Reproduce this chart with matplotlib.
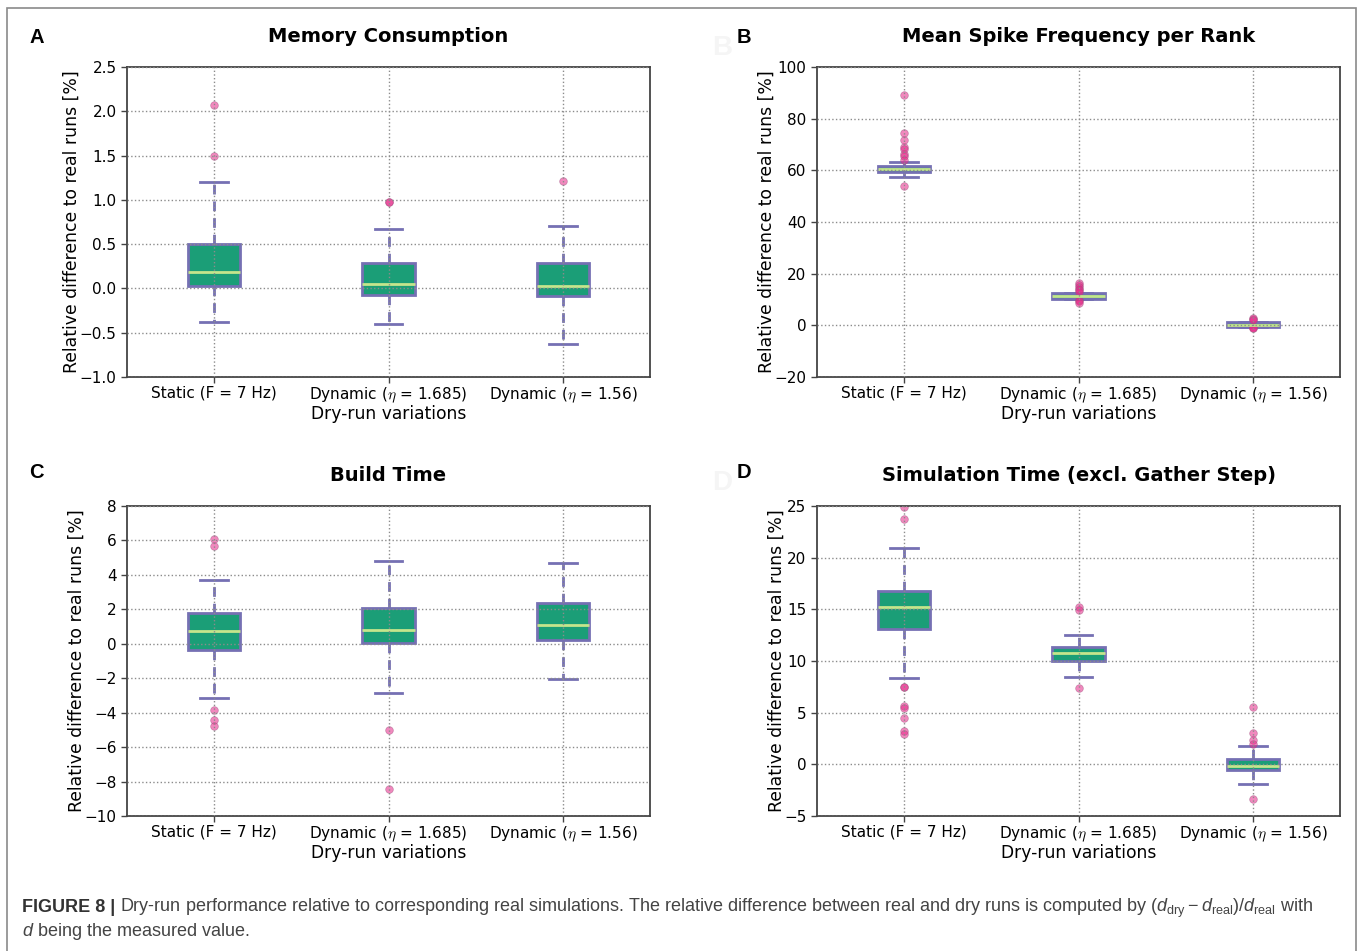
import numpy as np
import matplotlib
matplotlib.use("Agg")
import matplotlib.pyplot as plt
from matplotlib.patches import Rectangle

plt.rcParams['font.family'] = ['DejaVu Sans']
plt.rcParams['mathtext.fontset'] = 'cm'
plt.rcParams['mathtext.rm'] = 'Liberation Sans'
plt.rcParams['mathtext.it'] = 'Liberation Sans:italic'
plt.rcParams['mathtext.bf'] = 'Liberation Sans:bold'

# categories on the x axis
variations = ['Static (F = 7 Hz)', r'Dynamic ($\eta$ = 1.685)', r'Dynamic ($\eta$ = 1.56)']

# box stats per variation: (whisker low, q1, median, q3, whisker high)
mem_stats = [(-0.38, 0.03, 0.18, 0.505, 1.20),
             (-0.405, -0.07, 0.053, 0.287, 0.67),
             (-0.627, -0.09, 0.03, 0.283, 0.71)]
mem_fliers = [[2.07, 1.50], [0.98, 0.975], [1.21]]

spike_stats = [(57.3, 59.5, 60.6, 61.7, 63.2),
               (10.2, 10.3, 11.35, 12.4, 12.5),
               (-0.8, -0.66, 0.1, 1.16, 1.3)]
spike_fliers = [[89.3, 74.3, 71.7, 69.1, 68.3, 66.3, 65.5, 64.0, 53.9],
                [16.3, 15.5, 14.7, 14.0, 13.7, 13.0, 9.8, 9.4, 8.75],
                [2.7, 2.3, 1.9, -0.5, -0.9, -1.2]]

build_stats = [(-3.17, -0.38, 0.76, 1.79, 3.70),
               (-2.88, 0.03, 0.80, 2.08, 4.79),
               (-2.03, 0.22, 1.07, 2.39, 4.69)]
build_fliers = [[6.08, 5.68, -3.83, -4.44, -4.77], [-5.02, -8.45], []]

sim_stats = [(8.32, 13.13, 15.19, 16.77, 20.9),
             (8.48, 9.97, 10.81, 11.39, 12.55),
             (-1.87, -0.58, -0.19, 0.48, 1.81)]
sim_fliers = [[24.9, 23.7, 7.5, 7.45, 5.65, 5.45, 4.52, 3.26, 2.97],
              [15.26, 14.97, 7.42],
              [5.52, 3.03, 2.32, 2.0, -3.39]]

panels = [
    ('A', 'Memory Consumption', mem_stats, mem_fliers, (-1.0, 2.5), np.arange(-1.0, 2.51, 0.5)),
    ('B', 'Mean Spike Frequency per Rank', spike_stats, spike_fliers, (-20, 100), np.arange(-20, 101, 20)),
    ('C', 'Build Time', build_stats, build_fliers, (-10, 8), np.arange(-10, 9, 2)),
    ('D', 'Simulation Time (excl. Gather Step)', sim_stats, sim_fliers, (-5, 25), np.arange(-5, 26, 5)),
]

W, H = 1358, 951
fig = plt.figure(figsize=(W / 100, H / 100), dpi=100)

# axes boxes in pixels (left, top)
ax_pos = {'A': (127, 67), 'B': (817, 67), 'C': (127, 506), 'D': (817, 506)}
letter_pos = {'A': (29, 43), 'B': (737, 43), 'C': (29, 478), 'D': (737, 478)}
aw, ah = 523, 310

green = '#1b9e77'
purple = '#7570b3'
pink = '#e7298a'
light = '#c5e58c'

for letter, title, stats, fliers, ylim, yticks in panels:
    x0, y0 = ax_pos[letter]
    ax = fig.add_axes([x0 / W, 1 - (y0 + ah) / H, aw / W, ah / H])
    bstats = []
    for (lo, q1, med, q3, hi), fl, lab in zip(stats, fliers, variations):
        bstats.append(dict(whislo=lo, q1=q1, med=med, q3=q3, whishi=hi,
                           fliers=fl, label=lab))
    ax.bxp(bstats, positions=[1, 2, 3], widths=0.3, capwidths=0.16,
           patch_artist=True,
           boxprops=dict(facecolor=green, edgecolor=purple, linewidth=2),
           whiskerprops=dict(color=purple, linestyle=(0, (3.5, 2.5)), linewidth=2),
           capprops=dict(color=purple, linewidth=2),
           medianprops=dict(color=light, linewidth=2),
           flierprops=dict(marker='o', markerfacecolor=pink, markeredgecolor='#a05080',
                           markeredgewidth=0.5, markersize=5.5, alpha=0.55))
    ax.set_xlim(0.5, 3.5)
    ax.set_ylim(*ylim)
    ax.set_yticks(yticks)
    ax.grid(True, linestyle=':', color='#8c8c8c', linewidth=1)
    ax.set_axisbelow(False)
    ax.tick_params(direction='out', length=4, width=1, color='#444444',
                   labelsize=11, top=False, right=False)
    ax.tick_params(axis='x', pad=2)
    for sp in ax.spines.values():
        sp.set_color('#444444')
        sp.set_linewidth(1.3)
    ax.set_title(title, fontsize=14, fontweight='bold', pad=18)
    ax.set_xlabel('Dry-run variations', fontsize=12.3, labelpad=0)
    ax.set_ylabel('Relative difference to real runs [%]', fontsize=12.4, labelpad=-1)

    lx, ly = letter_pos[letter]
    if letter in ('B', 'D'):
        # faint ghost letter left of the real one
        fig.text((lx - 25) / W, 1 - (ly + 12) / H, letter, fontsize=20,
                 fontweight='bold', color='#f5f5f5', family='Liberation Sans')
    fig.text(lx / W, 1 - ly / H, letter, fontsize=14.5, fontweight='bold',
             family='Liberation Sans', va='baseline')

# outer frame
fig.patches.append(Rectangle((7 / W, -0.05), 1349 / W, 1 - 8 / H + 0.05,
                             transform=fig.transFigure, fill=False,
                             edgecolor='#8a8a8a', linewidth=1.2))

# caption
cap_bold = fig.text(22 / W, 1 - 912 / H, 'FIGURE 8 |', fontsize=13,
                    fontweight='bold', family='Liberation Sans', color='#333333')
fig.canvas.draw()
bb = cap_bold.get_window_extent()
fig.text((bb.x1 + 5) / W, 1 - 912 / H,
         r'Dry-run performance relative to corresponding real simulations. '
         r'The relative difference between real and dry runs is computed by '
         r'($d_{\mathrm{dry}} - d_{\mathrm{real}}$)/$d_{\mathrm{real}}$ with',
         fontsize=13, family='Liberation Sans', color='#444444',
         math_fontfamily='custom')
fig.text(22 / W, 1 - 936 / H, r'$d$ being the measured value.', fontsize=13,
         family='Liberation Sans', color='#444444', math_fontfamily='custom')

fig.savefig('out.png', dpi=100)
